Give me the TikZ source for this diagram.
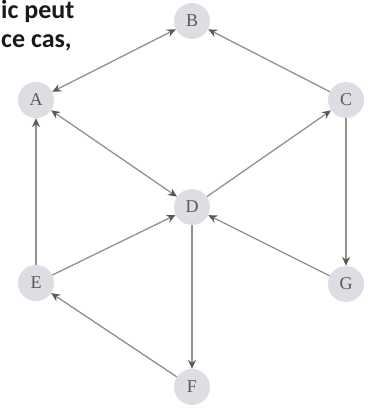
\documentclass[tikz,border=0pt]{standalone}
\usepackage{fontspec}
\newfontfamily\calib{Carlito}
\newfontfamily\lettr{Liberation Serif}
\usetikzlibrary{arrows.meta,positioning}
\definecolor{vertexfill}{RGB}{221,221,228}
\definecolor{edgegray}{RGB}{145,145,145}
\definecolor{tipgray}{RGB}{90,90,90}

\begin{document}
\begin{tikzpicture}[x=1pt, y=-1pt,
        vertex/.style={circle, fill=vertexfill, minimum size=36pt, inner sep=0pt, text=black!65, font=\lettr\fontsize{18}{18}\selectfont},
        arc/.style={draw=edgegray, line width=1.3pt, -{Stealth[length=9pt, width=8pt, inset=3pt, color=tipgray]}},
        biarc/.style={arc, {Stealth[length=9pt, width=8pt, inset=3pt, color=tipgray]}-{Stealth[length=9pt, width=8pt, inset=3pt, color=tipgray]}}]
                \useasboundingbox (0,0) rectangle (372,409);

                % text of the page, cut off on the left
                \node[anchor=north west, inner sep=0pt, align=left, font=\calib\bfseries\fontsize{26}{29}\selectfont, text=black!90] at (1,0) (txt) {ic peut\\ce cas,};

                % Nodes
                \node[vertex] at (192, 21) (B) {B};
                \node[vertex] at (36, 100) (A) {A};
                \node[vertex] at (346, 100) (C) {C};
                \node[vertex] at (192, 207) (D) {D};
                \node[vertex] at (36, 283) (E) {E};
                \node[vertex] at (346, 284) (G) {G};
                \node[vertex] at (192, 387) (F) {F};

                \draw[biarc] (A) -- (B);
                \draw[arc] (C) -- (B);
                \draw[biarc] (A) -- (D);
                \draw[arc] (D) -- (C);
                \draw[arc] (C) -- (G);
                \draw[arc] (E) -- (A);
                \draw[arc] (E) -- (D);
                \draw[arc] (G) -- (D);
                \draw[arc] (D) -- (F);
                \draw[arc] (F) -- (E);

            \end{tikzpicture}
\end{document}
